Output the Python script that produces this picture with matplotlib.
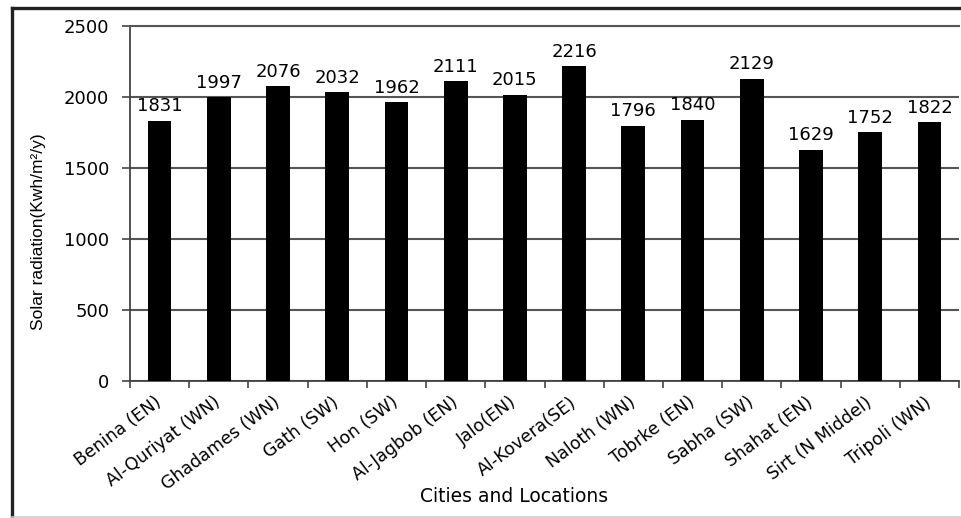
import matplotlib
matplotlib.use("Agg")
import matplotlib.pyplot as plt
from matplotlib.lines import Line2D

cities = ["Benina (EN)", "Al-Quriyat (WN)", "Ghadames (WN)", "Gath (SW)", "Hon (SW)",
          "Al-Jagbob (EN)", "Jalo(EN)", "Al-Kovera(SE)", "Naloth (WN)", "Tobrke (EN)",
          "Sabha (SW)", "Shahat (EN)", "Sirt (N Middel)", "Tripoli (WN)"]
radiation = [1831, 1997, 2076, 2032, 1962, 2111, 2015, 2216, 1796, 1840, 2129, 1629, 1752, 1822]
y_ticks = [0, 500, 1000, 1500, 2000, 2500]

W, H = 962, 518
fig = plt.figure(figsize=(W / 100, H / 100), dpi=100)
fig.patch.set_facecolor("white")

ax = fig.add_axes([130 / W, 1 - 381 / H, (959 - 130) / W, (381 - 26) / H])

x = list(range(len(cities)))
ax.bar(x, radiation, width=0.4, color="black", zorder=3)

for xi, v in zip(x, radiation):
    ax.annotate(str(v), (xi, v), xytext=(0, 4), textcoords="offset points",
                ha="center", va="bottom", fontsize=13, family="DejaVu Sans")

ax.set_xlim(-0.5, len(cities) - 0.5)
ax.set_ylim(0, 2500)
ax.set_yticks(y_ticks)
ax.set_yticklabels([str(t) for t in y_ticks], fontsize=13, family="DejaVu Sans")

ax.set_xticks(x)
ax.set_xticklabels(cities, rotation=37, ha="right", va="center",
                   rotation_mode="anchor", fontsize=12.5, family="DejaVu Sans")
ax.set_xticks([i - 0.5 for i in range(len(cities) + 1)], minor=True)
ax.tick_params(axis="x", which="major", length=0, pad=14)
ax.tick_params(axis="x", which="minor", length=5, width=1.2, color="#444")
ax.tick_params(axis="y", length=6, width=1.2, color="#444", pad=9)

ax.grid(axis="y", color="#555555", linewidth=1.5, zorder=0)
ax.spines["right"].set_visible(False)
ax.spines["top"].set_color("#555555")
ax.spines["top"].set_linewidth(1.5)
for side in ("left", "bottom"):
    ax.spines[side].set_color("#444444")
    ax.spines[side].set_linewidth(1.3)

ax.set_ylabel("Solar radiation(Kwh/m²/y)", fontsize=12.5, family="Liberation Sans", va="center")
ax.yaxis.set_label_coords((39 - 130) / 829, (381 - 232) / 355)
ax.set_xlabel("Cities and Locations", fontsize=13.5, family="DejaVu Sans", va="center")
ax.xaxis.set_label_coords((514 - 130) / 829, (381 - 497) / 355)

# outer frame around the figure
fig.add_artist(Line2D([12 / W, 12 / W], [1 - 517 / H, 1 - 8 / H], color="#222222", lw=2.4))
fig.add_artist(Line2D([12 / W, 1], [1 - 8 / H, 1 - 8 / H], color="#222222", lw=2.4))
fig.add_artist(Line2D([12 / W, 1], [1 - 517 / H, 1 - 517 / H], color="#cccccc", lw=1.2))

fig.savefig("out.png", dpi=100)
